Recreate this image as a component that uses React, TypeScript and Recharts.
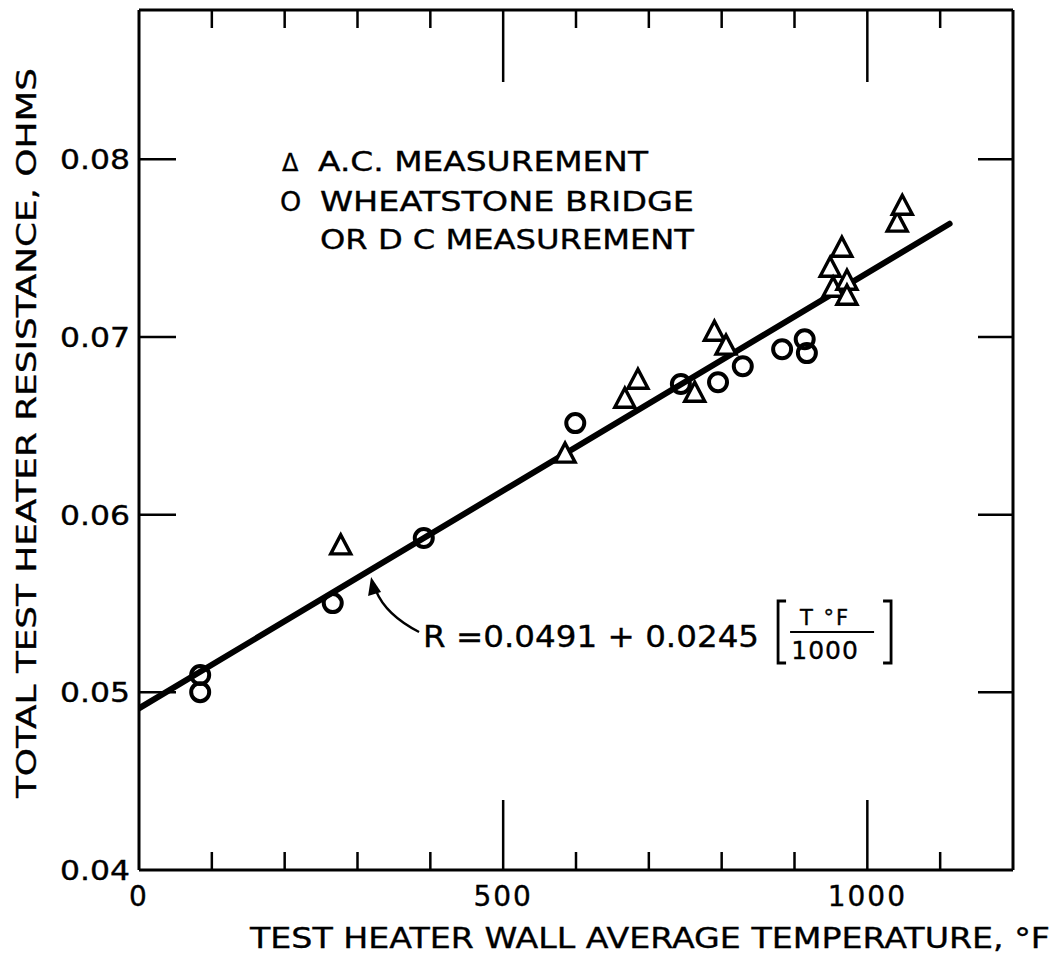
import React from 'react';
import { ScatterChart, Scatter, XAxis, YAxis, ReferenceDot, Customized } from 'recharts';

// A.C. measurement (triangles)
const acTemp = [277, 585, 667, 685, 763, 790, 806, 949, 953, 965, 972, 972, 1041, 1048];
const acRes = [0.0583, 0.06346, 0.06655, 0.06762, 0.06689, 0.07032, 0.06954, 0.07392, 0.0728, 0.07505, 0.07319, 0.07235, 0.07646, 0.07741];
// Wheatstone bridge or DC measurement (circles)
const dcTemp = [84, 84, 266, 391, 599, 744, 795, 829, 883, 914, 917];
const dcRes = [0.05097, 0.05001, 0.05502, 0.05868, 0.06515, 0.06735, 0.06745, 0.06835, 0.06931, 0.06987, 0.06909];
// Fitted line R = 0.0491 + 0.0245 (T/1000)
const fitTemp = [0, 1113];
const fitRes = [0.0491, 0.07637];

const xTicks = [0, 100, 200, 300, 400, 500, 600, 700, 800, 900, 1000, 1100, 1200];
const xLabeled = [0, 500, 1000];
const xMajor = [500, 1000];
const yTicks = [0.04, 0.05, 0.06, 0.07, 0.08];
const yLabels = ['0.04', '0.05', '0.06', '0.07', '0.08'];

const annotTemp = 320;
const annotRes = 0.05694;

const FONT = '"DejaVu Sans", sans-serif';
const TXT = { fontFamily: FONT, fill: '#000', stroke: '#000', strokeWidth: 0.35 } as const;

const acData = acTemp.map((t, i) => ({ t, r: acRes[i] }));
const dcData = dcTemp.map((t, i) => ({ t, r: dcRes[i] }));
const fitData = fitTemp.map((t, i) => ({ t, r: fitRes[i] }));

const Triangle = (p: any) => {
  const { cx, cy } = p;
  const w = 10, h = 10;
  return <polygon points={`${cx},${cy - h} ${cx - w},${cy + h - 1} ${cx + w},${cy + h - 1}`} fill="#fff" stroke="#000" strokeWidth={3.4} strokeLinejoin="miter" />;
};
const Circle = (p: any) => {
  const { cx, cy } = p;
  return <circle cx={cx} cy={cy} r={9} fill="none" stroke="#000" strokeWidth={4} />;
};

const BottomTick = (p: any) => {
  const { x, y, payload } = p;
  const v = payload.value;
  const len = xMajor.includes(v) ? 70 : 18;
  const show = xLabeled.includes(v);
  return (
    <g>
      {v !== 0 && v !== 1200 && <line x1={x} x2={x} y1={y} y2={y - len} stroke="#000" strokeWidth={2.5} />}
      {show && (
        <text x={x} y={y + 26} textAnchor="middle" dominantBaseline="central" fontSize={28} letterSpacing={2} {...TXT}>
          {String(v)}
        </text>
      )}
    </g>
  );
};
const TopTick = (p: any) => {
  const { x, y, payload } = p;
  const v = payload.value;
  const len = xMajor.includes(v) ? 72 : 18;
  if (v === 0 || v === 1200) return <g />;
  return <line x1={x} x2={x} y1={y} y2={y + len} stroke="#000" strokeWidth={2.5} />;
};
const LeftTick = (p: any) => {
  const { x, y, payload, index } = p;
  const v = payload.value;
  const idx = yTicks.indexOf(v);
  return (
    <g>
      {v !== 0.04 && <line x1={x} x2={x + 37} y1={y} y2={y} stroke="#000" strokeWidth={2.5} />}
      <text x={x - 9} y={y + 1} textAnchor="end" dominantBaseline="central" fontSize={26} textLength={70} lengthAdjust="spacingAndGlyphs" {...TXT}>
        {yLabels[idx >= 0 ? idx : index]}
      </text>
    </g>
  );
};
const RightTick = (p: any) => {
  const { x, y, payload } = p;
  if (payload.value === 0.04) return <g />;
  return <line x1={x} x2={x - 35} y1={y} y2={y} stroke="#000" strokeWidth={2.5} />;
};

const Annotation = (p: any) => {
  const { cx, cy } = p;
  const tx = cx - 1, ty = cy + 8;
  return (
    <g>
      <path d={`M ${cx + 47} ${cy + 63} Q ${cx + 14} ${cy + 46} ${cx + 4} ${cy + 22}`} fill="none" stroke="#000" strokeWidth={2.4} />
      <polygon points={`${tx},${ty} ${tx - 3},${ty + 19} ${tx + 10},${ty + 15}`} fill="#000" />
      <text x={cx + 51} y={cy + 78} fontSize={30} textLength={336} lengthAdjust="spacingAndGlyphs" {...TXT}>
        R =0.0491 + 0.0245
      </text>
      <path d={`M ${cx + 414} ${cy + 32} L ${cx + 406} ${cy + 32} L ${cx + 406} ${cy + 94} L ${cx + 414} ${cy + 94}`} fill="none" stroke="#000" strokeWidth={2.8} />
      <path d={`M ${cx + 511} ${cy + 32} L ${cx + 519} ${cy + 32} L ${cx + 519} ${cy + 94} L ${cx + 511} ${cy + 94}`} fill="none" stroke="#000" strokeWidth={2.8} />
      <text x={cx + 453} y={cy + 56} textAnchor="middle" fontSize={21} letterSpacing={2} {...TXT}>T °F</text>
      <line x1={cx + 418} x2={cx + 502} y1={cy + 63} y2={cy + 63} stroke="#000" strokeWidth={2} />
      <text x={cx + 453} y={cy + 90} textAnchor="middle" fontSize={25} letterSpacing={1} {...TXT}>1000</text>
    </g>
  );
};

const Decorations = () => (
  <g>
    <text transform="translate(36, 433) rotate(-90)" textAnchor="middle" fontSize={27} textLength={730} lengthAdjust="spacingAndGlyphs" {...TXT}>
      TOTAL TEST HEATER RESISTANCE, OHMS
    </text>
    <text x={250} y={948} fontSize={28} textLength={800} lengthAdjust="spacingAndGlyphs" {...TXT}>
      TEST HEATER WALL AVERAGE TEMPERATURE, °F
    </text>
    <text x={282} y={171} fontSize={24} {...TXT}>Δ</text>
    <text x={318} y={171} fontSize={27} textLength={330} lengthAdjust="spacingAndGlyphs" {...TXT}>A.C. MEASUREMENT</text>
    <text x={280} y={211} fontSize={27} {...TXT}>O</text>
    <text x={320} y={211} fontSize={27} textLength={374} lengthAdjust="spacingAndGlyphs" {...TXT}>WHEATSTONE BRIDGE</text>
    <text x={320} y={249} fontSize={27} textLength={374} lengthAdjust="spacingAndGlyphs" {...TXT}>OR D C MEASUREMENT</text>
  </g>
);

export default function App() {
  return (
    <div style={{ position: 'absolute', left: 0, top: 0, width: 1057, height: 958, background: '#fff' }}>
      <ScatterChart width={1057} height={958} margin={{ top: 0, right: 0, bottom: 0, left: 0 }}>
        <XAxis xAxisId="b" orientation="bottom" type="number" dataKey="t" domain={[0, 1200]} ticks={xTicks} interval={0}
          height={88} tickSize={0} tickMargin={0} tickLine={false} axisLine={{ stroke: '#000', strokeWidth: 3 }} tick={BottomTick} allowDataOverflow />
        <XAxis xAxisId="t" orientation="top" type="number" dataKey="t" domain={[0, 1200]} ticks={xTicks} interval={0}
          height={10} tickSize={0} tickMargin={0} tickLine={false} axisLine={{ stroke: '#000', strokeWidth: 3 }} tick={TopTick} allowDataOverflow />
        <YAxis yAxisId="l" orientation="left" type="number" dataKey="r" domain={[0.04, 0.0884]} ticks={yTicks} interval={0}
          width={139} tickSize={0} tickMargin={0} tickLine={false} axisLine={{ stroke: '#000', strokeWidth: 3 }} tick={LeftTick} allowDataOverflow />
        <YAxis yAxisId="r" orientation="right" type="number" dataKey="r" domain={[0.04, 0.0884]} ticks={yTicks} interval={0}
          width={44} tickSize={0} tickMargin={0} tickLine={false} axisLine={{ stroke: '#000', strokeWidth: 3 }} tick={RightTick} allowDataOverflow />
        <Scatter name="fit" data={fitData} xAxisId="b" yAxisId="l" line={{ stroke: '#000', strokeWidth: 6, strokeLinecap: 'round' }} shape={() => <g />} isAnimationActive={false} />
        <Scatter name="A.C. MEASUREMENT" data={acData} xAxisId="b" yAxisId="l" shape={Triangle} isAnimationActive={false} />
        <Scatter name="WHEATSTONE BRIDGE OR DC MEASUREMENT" data={dcData} xAxisId="b" yAxisId="l" shape={Circle} isAnimationActive={false} />
        <ReferenceDot x={annotTemp} y={annotRes} xAxisId="b" yAxisId="l" shape={Annotation} ifOverflow="visible" />
        <Customized component={Decorations} />
      </ScatterChart>
    </div>
  );
}
